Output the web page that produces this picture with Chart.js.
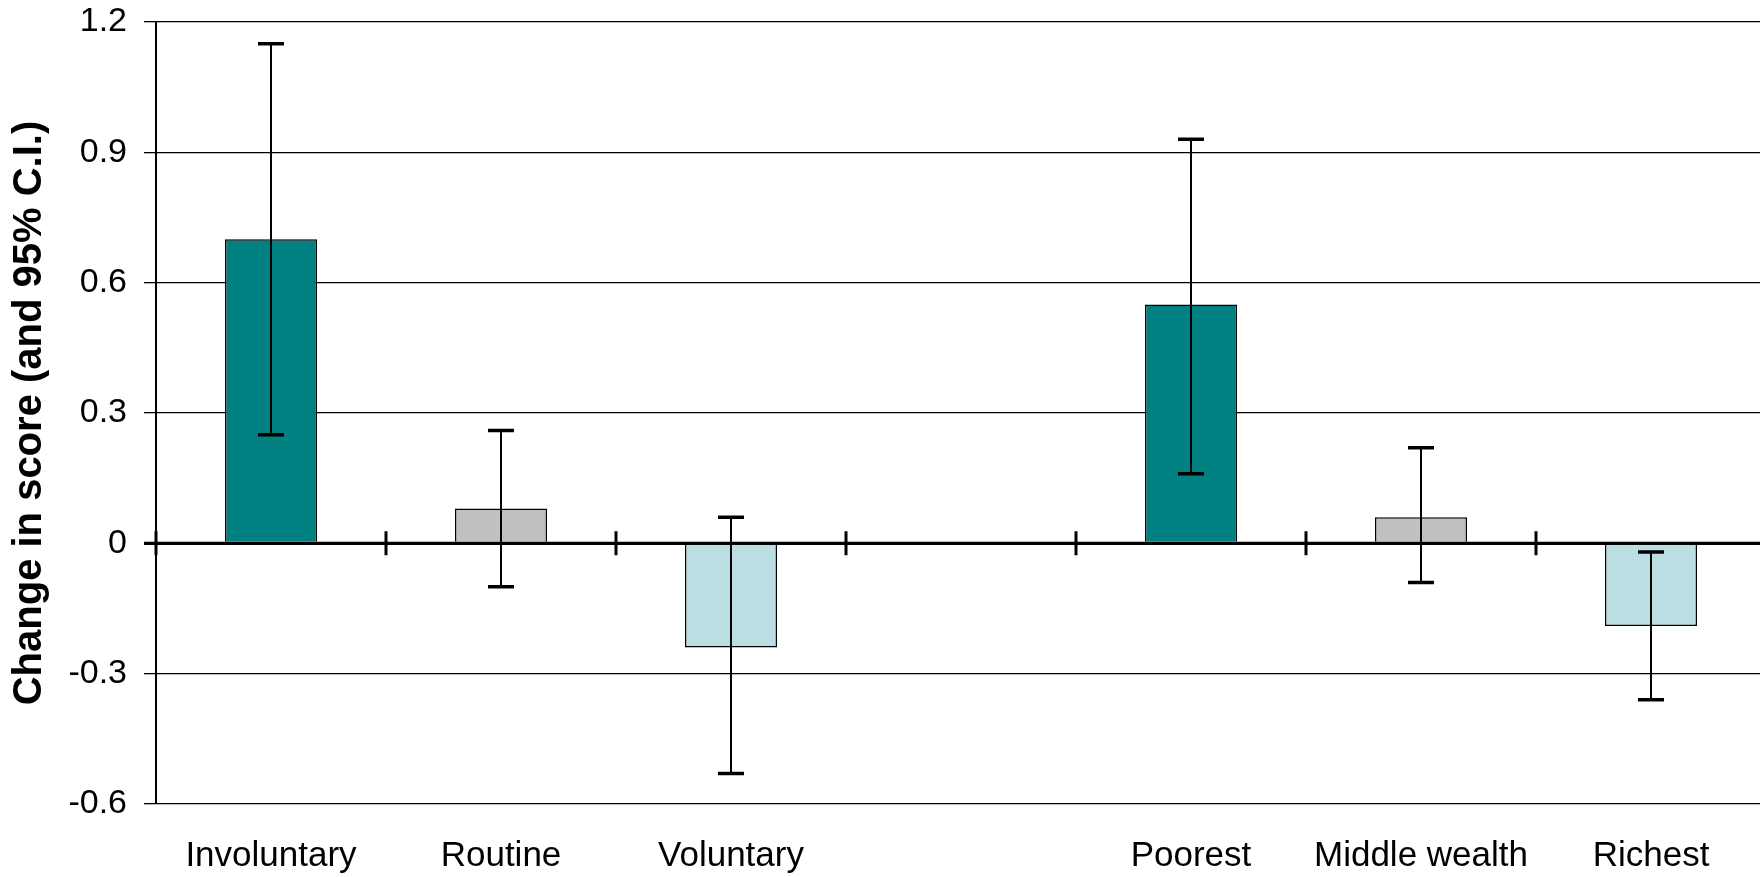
<!DOCTYPE html>
<html>
<head>
<meta charset="utf-8">
<title>Change in score</title>
<script src="https://cdn.jsdelivr.net/npm/chart.js@4"></script>
<style>
  html, body { margin: 0; padding: 0; overflow: hidden; background: #ffffff; }
  #wrap { width: 1766px; height: 877px; position: relative; }
</style>
</head>
<body>
<div id="wrap"><canvas id="chart"></canvas></div>
<script>
// Groups along the x axis (blank slot separates the two groupings)
const categories = ['Involuntary', 'Routine', 'Voluntary', '', 'Poorest', 'Middle wealth', 'Richest'];
// Mean change in score per group
const changeScore = [0.70, 0.08, -0.24, null, 0.55, 0.06, -0.19];
// 95% confidence interval bounds
const ciLower = [0.25, -0.10, -0.53, null, 0.16, -0.09, -0.36];
const ciUpper = [1.15, 0.26, 0.06, null, 0.93, 0.22, -0.02];
// Fill per bar
const barColours = ['#008080', '#C0C0C0', '#BBDEE3', '#FFFFFF', '#008080', '#C0C0C0', '#BBDEE3'];
// Value axis range and tick spacing
const yMin = -0.6;
const yMax = 1.2;
const yStep = 0.3;
const yTitle = 'Change in score (and 95% C.I.)';

const FONT = "'Liberation Sans', Arial, Helvetica, sans-serif";

// Heavy zero line with tick marks crossing it at every category boundary
const zeroAxis = {
  id: 'zeroAxis',
  afterDatasetsDraw(chart) {
    const { ctx, chartArea, scales: { x, y } } = chart;
    const y0 = y.getPixelForValue(0);
    ctx.save();
    ctx.strokeStyle = '#000';
    ctx.lineWidth = 3;
    ctx.beginPath();
    ctx.moveTo(chartArea.left - 12, y0);
    ctx.lineTo(chartArea.right, y0);
    ctx.stroke();
    ctx.beginPath();
    for (let i = 0; i <= categories.length; i++) {
      const px = x.getPixelForValue(i - 0.5);
      ctx.moveTo(px, y0 - 12);
      ctx.lineTo(px, y0 + 12);
    }
    ctx.stroke();
    ctx.restore();
  }
};

// Confidence-interval whiskers with heavy caps
const errorBars = {
  id: 'errorBars',
  afterDatasetsDraw(chart) {
    const { ctx, scales: { y } } = chart;
    const meta = chart.getDatasetMeta(0);
    ctx.save();
    ctx.strokeStyle = '#000';
    meta.data.forEach((bar, i) => {
      if (ciLower[i] == null || ciUpper[i] == null) return;
      const xp = bar.x;
      const yl = y.getPixelForValue(ciLower[i]);
      const yh = y.getPixelForValue(ciUpper[i]);
      ctx.lineWidth = 2;
      ctx.beginPath();
      ctx.moveTo(xp, yl);
      ctx.lineTo(xp, yh);
      ctx.stroke();
      ctx.lineWidth = 3.5;
      ctx.beginPath();
      ctx.moveTo(xp - 13, yl);
      ctx.lineTo(xp + 13, yl);
      ctx.moveTo(xp - 13, yh);
      ctx.lineTo(xp + 13, yh);
      ctx.stroke();
    });
    ctx.restore();
  }
};

new Chart(document.getElementById('chart'), {
  type: 'bar',
  data: {
    labels: categories,
    datasets: [{
      data: changeScore,
      backgroundColor: barColours,
      borderColor: '#000',
      borderWidth: 1.5,
      barPercentage: 0.4,
      categoryPercentage: 1.0
    }]
  },
  options: {
    responsive: true,
    maintainAspectRatio: false,
    animation: false,
    layout: { padding: { top: 22, right: 0, bottom: 0, left: 0 } },
    plugins: {
      legend: { display: false },
      tooltip: { enabled: false }
    },
    scales: {
      x: {
        afterFit(s) { s.height = 73; s.paddingLeft = 0; s.paddingRight = 0; },
        grid: { display: false, drawTicks: false, tickLength: 0 },
        border: { display: false },
        ticks: {
          padding: 31,
          color: '#000',
          maxRotation: 0,
          autoSkip: false,
          font: { family: FONT, size: 35 }
        }
      },
      y: {
        min: yMin,
        max: yMax,
        afterFit(s) { s.width = 156; s.paddingTop = 0; s.paddingBottom = 0; },
        ticks: {
          stepSize: yStep,
          padding: 17,
          color: '#000',
          font: { family: FONT, size: 34 },
          callback: v => String(Number(v.toFixed(1)))
        },
        grid: {
          color: '#000',
          lineWidth: c => (c.tick && Math.abs(c.tick.value) < 1e-9 ? 3 : 1.3),
          tickLength: 12
        },
        border: { display: true, color: '#000', width: 2 },
        title: {
          display: true,
          text: yTitle,
          color: '#000',
          font: { family: FONT, size: 40, weight: 'bold', lineHeight: 1.2 },
          padding: { top: 6, bottom: 0 }
        }
      }
    }
  },
  plugins: [zeroAxis, errorBars]
});
</script>
</body>
</html>
